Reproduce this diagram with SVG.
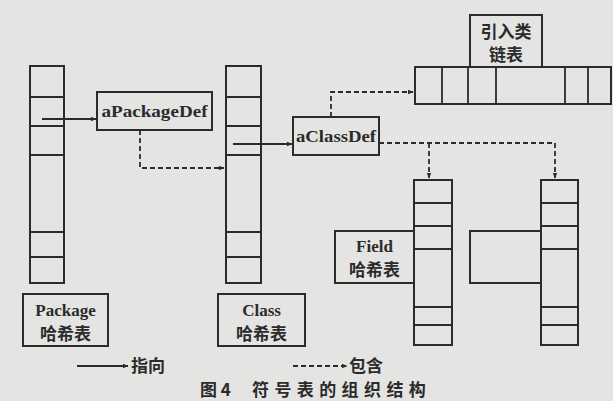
<svg xmlns="http://www.w3.org/2000/svg" width="613" height="401" viewBox="0 0 613 401">
<defs>
<style>
.bx{fill:none;stroke:#2b2b2b;stroke-width:2}
.ln{fill:none;stroke:#2b2b2b;stroke-width:1.8}
.dl{fill:none;stroke:#2b2b2b;stroke-width:1.8;stroke-dasharray:5,3}
.en{font-family:"Liberation Serif",serif;font-weight:bold;fill:#2b2b2b;font-size:17px}
.cn{font-family:"Noto Sans CJK SC",sans-serif;font-weight:bold;fill:#2b2b2b;font-size:17px}
</style>
<marker id="ah" viewBox="0 0 10 10" refX="9" refY="5" markerWidth="6" markerHeight="6" orient="auto" markerUnits="userSpaceOnUse">
<path d="M0,1 L10,5 L0,9 z" fill="#2b2b2b"/>
</marker>
</defs>
<rect width="613" height="401" fill="#e4e4e2"/>

<g id="package-table">
<rect class="bx" x="30" y="66" width="34" height="217"/>
<path class="ln" d="M30,97H64M30,126H64M30,155H64M30,232H64M30,257H64"/>
</g>
<g id="package-label">
<rect class="bx" x="23" y="294" width="85" height="52"/>
<text class="en" x="65.5" y="316" text-anchor="middle">Package</text>
<text class="cn" x="65.5" y="340" text-anchor="middle">哈希表</text>
</g>
<g id="aPackageDef">
<rect class="bx" x="97" y="92" width="115" height="38"/>
<text class="en" x="154.5" y="117" font-size="18" text-anchor="middle" textLength="106" lengthAdjust="spacingAndGlyphs">aPackageDef</text>
</g>
<g id="class-table">
<rect class="bx" x="226" y="66" width="35" height="217"/>
<path class="ln" d="M226,97H261M226,126H261M226,155H261M226,232H261M226,257H261"/>
</g>
<g id="class-label">
<rect class="bx" x="218" y="294" width="87" height="52"/>
<text class="en" x="261.5" y="316" text-anchor="middle">Class</text>
<text class="cn" x="261.5" y="340" text-anchor="middle">哈希表</text>
</g>
<g id="aClassDef">
<rect class="bx" x="293" y="117" width="86" height="38"/>
<text class="en" x="336" y="142" font-size="18" text-anchor="middle" textLength="80" lengthAdjust="spacingAndGlyphs">aClassDef</text>
</g>
<g id="import-list">
<rect class="bx" x="415" y="67" width="196" height="37"/>
<path class="ln" d="M442,67V104M468,67V104M496,67V104M565,67V104M588,67V104"/>
</g>
<g id="import-label">
<rect class="bx" x="470" y="15" width="72" height="52"/>
<text class="cn" x="506" y="38" text-anchor="middle">引入类</text>
<text class="cn" x="506" y="61" text-anchor="middle">链表</text>
</g>
<g id="field-table">
<rect class="bx" x="414" y="180" width="38" height="165"/>
<path class="ln" d="M414,203H452M414,226H452M414,249H452M414,307H452M414,325H452"/>
</g>
<g id="field-label">
<rect class="bx" x="335" y="231" width="79" height="52"/>
<text class="en" x="374.5" y="252" text-anchor="middle">Field</text>
<text class="cn" x="374.5" y="276" text-anchor="middle">哈希表</text>
</g>
<g id="field-table-2">
<rect class="bx" x="541" y="180" width="37" height="165"/>
<path class="ln" d="M541,203H578M541,226H578M541,249H578M541,307H578M541,325H578"/>
</g>
<g id="field-label-2">
<rect class="bx" x="470" y="231" width="71" height="52"/>
</g>

<g id="connectors">
<path class="ln" d="M42,119H96" marker-end="url(#ah)"/>
<path class="dl" d="M140,130V168H224" marker-end="url(#ah)"/>
<path class="ln" d="M233,144H292" marker-end="url(#ah)"/>
<path class="dl" d="M331,117V92H413" marker-end="url(#ah)"/>
<path class="dl" d="M379,143H555V178" marker-end="url(#ah)"/>
<path class="dl" d="M429,143V178" marker-end="url(#ah)"/>
</g>

<g id="legend">
<path class="ln" d="M77,366H128" marker-end="url(#ah)"/>
<text class="cn" x="131" y="372" font-size="16">指向</text>
<path class="dl" d="M293,366H347" marker-end="url(#ah)"/>
<text class="cn" x="349" y="372" font-size="16">包含</text>
<text class="cn" x="200" y="396" font-size="16">图 4</text>
<text class="cn" x="252" y="396" font-size="16" letter-spacing="5.4">符号表的组织结构</text>
</g>
</svg>
